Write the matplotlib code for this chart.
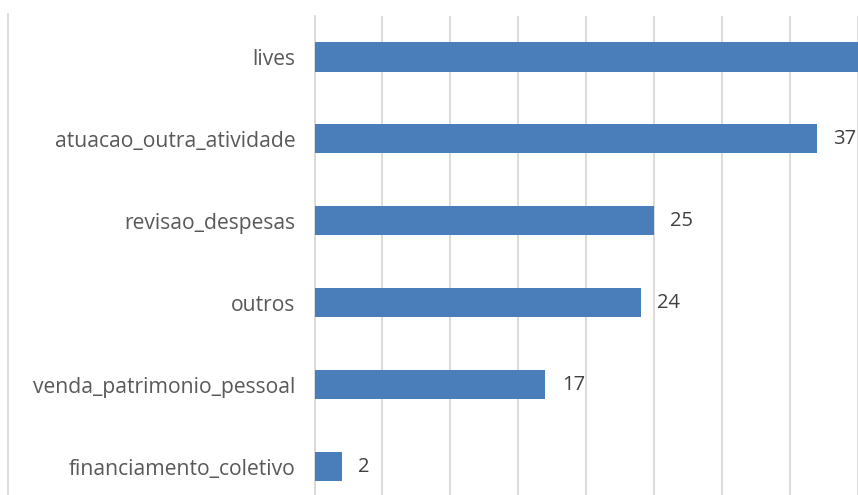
import matplotlib
matplotlib.use("Agg")
import matplotlib.pyplot as plt
from matplotlib.lines import Line2D

# categorias (de baixo para cima) e contagens
categorias = ["financiamento_coletivo", "venda_patrimonio_pessoal", "outros",
              "revisao_despesas", "atuacao_outra_atividade", "lives"]
valores = [2, 17, 24, 25, 37, 44]

cor_barra = "#4a7ebb"
cor_grade = "#d9d9d9"
cor_texto = "#595959"

plt.rcParams["font.family"] = ["Open Sans", "DejaVu Sans"]

W, H = 858, 495
x0 = 314.5        # px onde fica o zero do eixo
px_por_unid = 13.84

fig = plt.figure(figsize=(W / 100, H / 100), dpi=100)
# eixo começa no zero e passa da borda direita
ax = fig.add_axes([x0 / W, 0, (W - x0) / W, (H - 16) / H])

y = range(len(categorias))
ax.barh(y, valores, height=0.355, color=cor_barra, zorder=3)

for yi, v in zip(y, valores):
    ax.text(v + 1.2, yi, str(v), va="center", ha="left",
            fontsize=14.5, color="#404040")

ax.set_xlim(0, (W - x0) / px_por_unid)
ax.set_ylim(-0.344, 5.5)
ax.set_xticks(range(0, 45, 5))
ax.tick_params(axis="x", length=0, labelbottom=False)
ax.tick_params(axis="y", length=0, pad=13.5, labelsize=15.2, labelcolor=cor_texto)
ax.set_yticks(list(y))
ax.set_yticklabels(categorias)
ax.grid(axis="x", color=cor_grade, lw=1.3, zorder=0)
for s in ["top", "right", "bottom"]:
    ax.spines[s].set_visible(False)
ax.spines["left"].set_color(cor_grade)
ax.spines["left"].set_linewidth(1.3)

# moldura esquerda do gráfico
fig.add_artist(Line2D([7.5 / W, 7.5 / W], [0, (H - 14) / H],
                      color=cor_grade, lw=1.3, transform=fig.transFigure))

fig.savefig("out.png", dpi=100)
